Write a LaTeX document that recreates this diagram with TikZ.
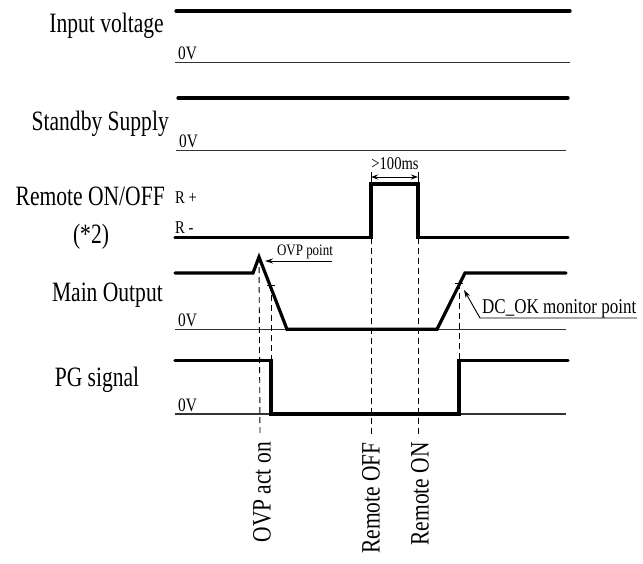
\documentclass[tikz,border=0pt]{standalone}
\usepackage{fontspec}
\setmainfont[FakeStretch=0.81]{Liberation Serif}
\newfontfamily\bigserif[FakeStretch=0.77]{Liberation Serif}
\usetikzlibrary{arrows.meta}
\begin{document}
\begin{tikzpicture}[x=1pt,y=-1pt,
  sig/.style={line width=3.2pt, line join=miter, line cap=round},
  zero/.style={line width=1.1pt, black!80},
  guide/.style={line width=0.9pt, dash pattern=on 6pt off 4pt},
  biglabel/.style={inner sep=0pt, font=\bigserif\fontsize{28}{32}\selectfont},
  lvl/.style={inner sep=0pt, font=\fontsize{19}{22}\selectfont},
  rlvl/.style={inner sep=0pt, font=\fontsize{18}{21}\selectfont},
  note/.style={inner sep=0pt, font=\fontsize{16}{19}\selectfont},
  vlabel/.style={inner sep=0pt, rotate=90, anchor=east, font=\fontsize{26.5}{30}\selectfont},
  tip/.style={-{Stealth[length=8pt,width=5pt]}, line width=0.9pt}]
\useasboundingbox (0,0) rectangle (643,563);

% ---- left labels
\node[biglabel, anchor=base east] (lin) at (164,32.3) {Input voltage};
\node[biglabel, anchor=base east] (lsb) at (169,130) {Standby Supply};
\node[biglabel, anchor=base east] (lrm) at (165,205) {Remote ON/OFF};
\node[biglabel, anchor=base] (lrm2) at (91,243) {(*2)};
\node[biglabel, anchor=base east] (lmo) at (163,301) {Main Output};
\node[biglabel, anchor=base] (lpg) at (97,386) {PG signal};

% ---- level labels
\node[lvl, anchor=base west] (z1) at (178,59.5) {0V};
\node[lvl, anchor=base west] (z2) at (179,147) {0V};
\node[rlvl, anchor=base west] (rp) at (175,203.3) {R +};
\node[rlvl, anchor=base west] (rn) at (175,233.3) {R -};
\node[lvl, anchor=base west] (z3) at (178,326.7) {0V};
\node[lvl, anchor=base west] (z4) at (178,411.7) {0V};

% ---- input voltage
\draw[sig] (176,11) -- (570,11);
\draw[zero] (175,62.3) -- (570,62.3);
% ---- standby
\draw[sig] (178,98) -- (568,98);
\draw[zero] (176,150.5) -- (566,150.5);

% ---- remote on/off
\coordinate (roff) at (371,237.5);
\coordinate (ron) at (418,237.5);
\draw[sig] (175,237.5) -- (roff) -- (371,184) -- (418,184) -- (ron) -- (568,237.5);
\draw[line width=0.9pt] (371,172) -- (371,184) (418,172) -- (418,184);
\coordinate (ta) at (371,177);
\coordinate (tb) at (418,177);
\draw[{Stealth[length=7pt,width=5pt]}-{Stealth[length=7pt,width=5pt]}, line width=0.9pt] (ta) -- (tb);
\node[inner sep=0pt, anchor=base, font=\fontsize{18}{21}\selectfont] (ms) at (395,169) {>100ms};

% ---- main output
\draw[zero] (175,329.3) -- (566,329.3);
\coordinate (peak) at (259,257);
\coordinate (fall) at (271,285);
\coordinate (rise) at (459,283);
\draw[sig] (175,273) -- (253,273) -- (peak) -- (287,329.3) -- (437,329.3) -- (465,273) -- (566,273);
\draw[line width=0.9pt] (267,285) -- (275,285) (455,283) -- (463,283);

% OVP point annotation
\coordinate (ovpa) at (332,261);
\coordinate (ovpt) at (265,261);
\draw[tip] (ovpa) -- (ovpt);
\node[note, anchor=base] (ovp) at (305,255) {OVP point};

% DC_OK annotation
\coordinate (dcr) at (637,318);
\coordinate (dcl) at (480,318);
\coordinate (dct) at (464,290);
\draw[tip] (dcr) -- (dcl) -- (dct);
\node[inner sep=0pt, anchor=base west, font=\fontsize{21}{24}\selectfont] (dc) at (482,313) {DC\_OK monitor point};

% ---- PG signal
\draw[zero] (175,414) -- (566,414);
\draw[sig] (175,360.7) -- (271,360.7) -- (271,414) -- (459,414) -- (459,360.7) -- (568,360.7);

% ---- guides
\coordinate (g1) at (260,433);
\coordinate (g3) at (371,437);
\coordinate (g4) at (418,437);
\draw[guide] (peak) -- (g1);
\draw[guide] (fall) -- (271,360.7);
\draw[guide] (roff) -- (g3);
\draw[guide] (ron) -- (g4);
\draw[guide] (rise) -- (459,360.7);

% ---- event labels
\node[vlabel] (e1) at (262,442) {OVP act on};
\node[vlabel] (e2) at (371,442) {Remote OFF};
\node[vlabel] (e3) at (420,442) {Remote ON};
\end{tikzpicture}
\end{document}
